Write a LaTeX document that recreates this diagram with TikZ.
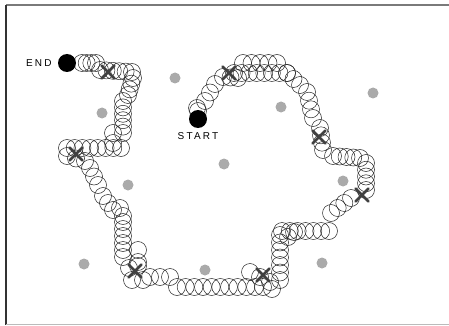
\documentclass[tikz,border=0pt]{standalone}
\usepackage{fontspec}
\setmainfont{Liberation Sans}
\usepackage{tikz}
\usetikzlibrary{positioning, calc}
\definecolor{DotGray}{HTML}{AAAAAA}
\definecolor{CrossGray}{HTML}{404040}
\definecolor{FrameDark}{HTML}{7A7A7A}
\definecolor{FrameLight}{HTML}{BBBBBB}

\begin{document}
\begin{tikzpicture}[x=1pt, y=-1pt,
    termdot/.style={circle, fill=black, minimum size=18pt, inner sep=0pt},
    city/.style={circle, fill=DotGray, minimum size=11pt, inner sep=0pt},
    ring/.style={draw=black!85, line width=0.5pt},
    cross/.style={draw=CrossGray, line width=2.6pt, line cap=round},
    lbl/.style={font=\fontsize{10}{11}\selectfont\addfontfeatures{LetterSpace=22}, inner sep=1pt}]
    \useasboundingbox (0,0) rectangle (449,326);

    % Frame
    \draw[FrameDark, line width=2pt] (6,5) -- (449,5);
    \draw[black!80, line width=1.5pt] (6,5) -- (6,325);
    \draw[FrameLight, line width=1pt] (6,324.5) -- (449,324.5);

    % Cities
    \foreach \cx/\cy [count=\k] in {175/78, 102/113, 281/107, 373/93, 224/164,
        128/185, 343/181, 84/264, 205/270, 322/263}
        \node[city] (city\k) at (\cx,\cy) {};

    % Tour of rings
    \foreach \xa/\ya/\xb/\yb/\nn in {82/63/96/63/3, 100/70/132/72/5, 133/78/128/95/3,
        123/101/123/133/5, 113/133/113/143/1, 121/148/67/148/7, 67/156/85/161/2,
        90/168/98/185/2, 103/196/113/210/2, 120/208/123/216/1, 123/222/123/257/5,
        138/250/138/262/1, 129/268/138/266/1, 132/280/143/280/1, 150/277/170/277/2,
        177/287/255/287/9, 263/287/272/289/1, 250/272/270/282/2, 280/280/280/235/6,
        288/237/294/232/1, 282/231/329/231/6, 331/213/351/198/3, 366/190/366/163/4,
        360/158/333/156/4, 323/150/320/128/3, 313/118/307/92/3, 300/85/287/73/2,
        287/73/234/73/7, 277/63/243/63/4, 238/78/223/77/2, 215/84/205/101/2,
        197/108/198/111/1}
        \foreach \i in {0,...,\nn} {
            \pgfmathsetmacro\rx{\xa+(\xb-\xa)*\i/\nn}
            \pgfmathsetmacro\ry{\ya+(\yb-\ya)*\i/\nn}
            \draw[ring] (\rx,\ry) circle[radius=8.5pt];
        }

    % Crosses
    \foreach \px/\py [count=\k] in {108/72, 76/154, 135/271, 263/275, 362/195,
        319/137, 229/73} {
        \coordinate (hit\k) at (\px,\py);
        \draw[cross] ($(hit\k)+(-6.5,-6.5)$) -- ($(hit\k)+(6.5,6.5)$);
        \draw[cross] ($(hit\k)+(-6.5,6.5)$) -- ($(hit\k)+(6.5,-6.5)$);
    }

    % End points
    \node[termdot] (endpt) at (67,63) {};
    \node[termdot] (startpt) at (198,119) {};
    \node[lbl, left=5pt of endpt] (endlbl) {END};
    \node[lbl, below=3pt of startpt] (startlbl) {START};
\end{tikzpicture}
\end{document}
